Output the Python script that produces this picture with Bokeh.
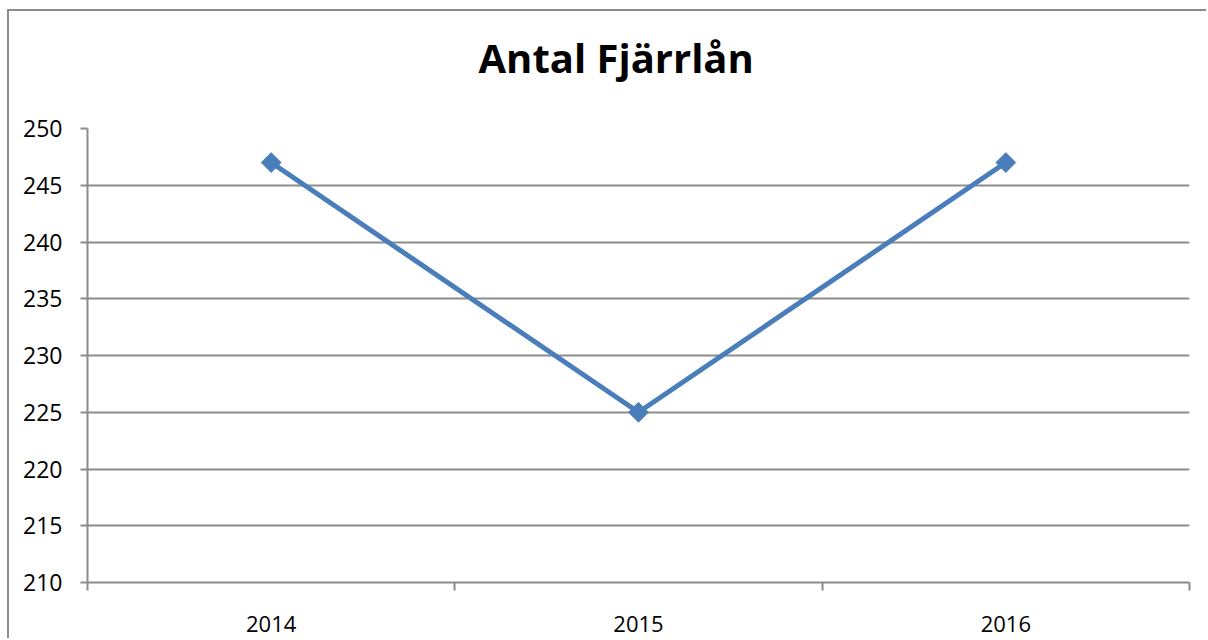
from bokeh.plotting import figure
from bokeh.models import FixedTicker, Range1d, Title
from bokeh.embed import file_html
from bokeh.resources import INLINE
import numpy as np

title_text = "Antal Fjärrlån"
years = ["2014", "2015", "2016"]
values = [247, 225, 247]
y_ticks = [210, 215, 220, 225, 230, 235, 240, 245, 250]

xs = [i + 0.5 for i in range(len(years))]
GRAY = "#8c8c8c"
BLUE = "#4a7ebb"
FONT = "Open Sans"

p = figure(width=1199, height=629, output_backend="svg", toolbar_location=None,
           x_range=Range1d(0, len(years)), y_range=Range1d(210, 250),
           min_border_left=78, min_border_right=19, min_border_top=117, min_border_bottom=58)
p.margin = (9, 0, 0, 7)
p.outline_line_color = None
p.styles = {"border-left": "2px solid #8c8c8c", "border-top": "2px solid #8c8c8c"}

# spacer between frame and title, then the title itself
p.add_layout(Title(text=" ", text_font_size="1px", standoff=41), "above")
p.add_layout(Title(text=title_text, align="left", offset=391, standoff=0,
                   text_font=FONT, text_font_size="40px", text_font_style="bold",
                   text_color="black"), "above")

p.line(xs, values, line_color=BLUE, line_width=5)
p.scatter(xs, values, marker="square", size=14, angle=np.pi / 4, fill_color=BLUE, line_color=BLUE)

p.xaxis.ticker = FixedTicker(ticks=xs, minor_ticks=list(range(len(years) + 1)))
p.xaxis.major_label_overrides = {x: y for x, y in zip(xs, years)}
p.xaxis.major_tick_out = 0
p.xaxis.major_tick_in = 0
p.xaxis.minor_tick_out = 8
p.xaxis.minor_tick_in = 0
p.xaxis.minor_tick_line_color = GRAY
p.xaxis.minor_tick_line_width = 2
p.xaxis.axis_line_color = GRAY
p.xaxis.axis_line_width = 2
p.xaxis.major_label_standoff = 25
p.xaxis.major_label_text_font_size = "22px"

p.yaxis.ticker = FixedTicker(ticks=y_ticks)
p.yaxis.major_tick_out = 7
p.yaxis.major_tick_in = 0
p.yaxis.minor_tick_line_color = None
p.yaxis.major_tick_line_color = GRAY
p.yaxis.major_tick_line_width = 2
p.yaxis.axis_line_color = GRAY
p.yaxis.axis_line_width = 2
p.yaxis.major_label_standoff = 18
p.yaxis.major_label_text_font_size = "23px"

for ax in (p.xaxis, p.yaxis):
    ax.major_label_text_font = FONT
    ax.major_label_text_color = "black"

p.xgrid.grid_line_color = None
p.ygrid.ticker = FixedTicker(ticks=y_ticks)
p.ygrid.grid_line_color = GRAY
p.ygrid.grid_line_width = 2

open("out.html", "w").write(file_html(p, INLINE))
